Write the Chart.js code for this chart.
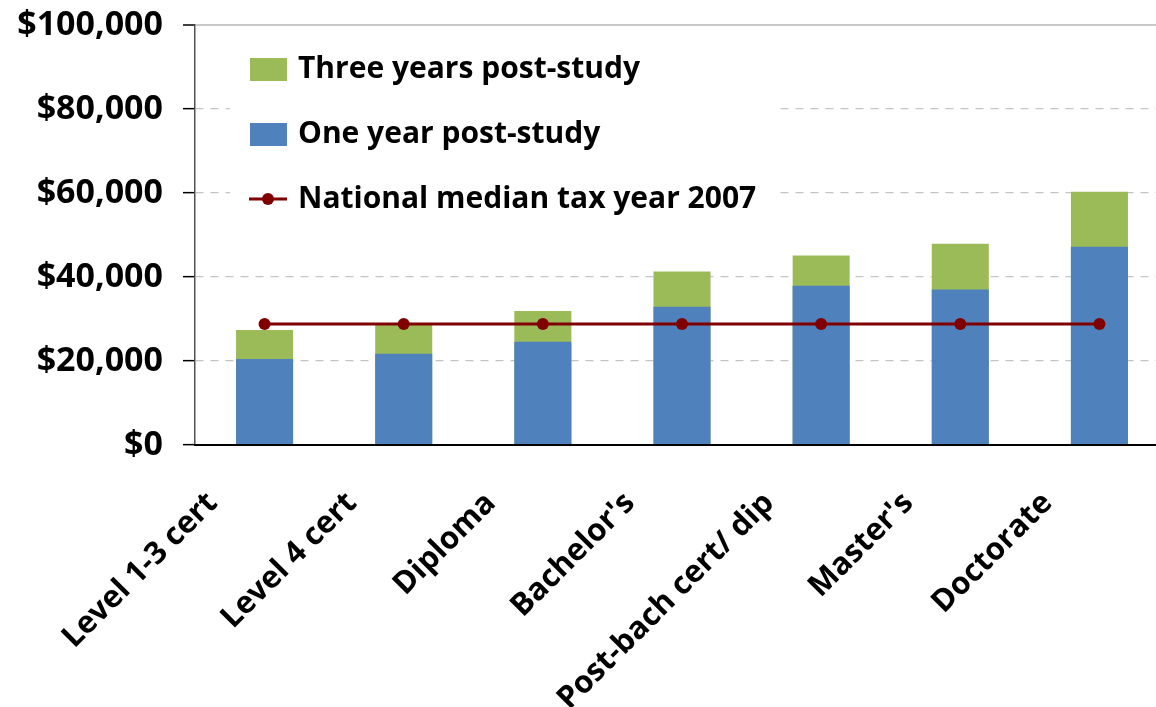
<!DOCTYPE html>
<html>
<head>
<meta charset="utf-8">
<script src="https://cdn.jsdelivr.net/npm/chart.js@4.4.1/dist/chart.umd.min.js"></script>
<style>
  html, body { margin: 0; padding: 0; background: #fff; overflow: hidden; }
  #wrap { position: relative; width: 1175px; height: 707px; }
</style>
</head>
<body>
<div id="wrap"><canvas id="earnings-chart"></canvas></div>
<script>
const categories = ['Level 1-3 cert', 'Level 4 cert', 'Diploma', "Bachelor's", 'Post-bach cert/ dip', "Master's", 'Doctorate'];
const oneYear = [20500, 21700, 24600, 32900, 37900, 37000, 47200];
const threeYears = [27400, 28700, 31900, 41300, 45100, 47900, 60300];
const nationalMedian = [28800, 28800, 28800, 28800, 28800, 28800, 28800];
const yTicks = [0, 20000, 40000, 60000, 80000, 100000];

const GREEN = '#9BBB59';
const BLUE = '#4F81BD';
const RED = '#800000';
const FAMILY = "'Open Sans', sans-serif";
const legendFont = { family: FAMILY, size: 30, weight: 'bold' };
const yFont = { family: FAMILY, size: 34, weight: 'bold' };
const xFont = { family: FAMILY, size: 31, weight: 'bold' };

// legend markers drawn into small canvases
function boxMarker(color) {
    const c = document.createElement('canvas');
    c.width = 37; c.height = 23;
    const g = c.getContext('2d');
    g.fillStyle = color;
    g.fillRect(0, 0, 37, 23);
    return c;
}
function lineMarker(color) {
    const c = document.createElement('canvas');
    c.width = 38; c.height = 14;
    const g = c.getContext('2d');
    g.strokeStyle = color;
    g.lineWidth = 3;
    g.beginPath(); g.moveTo(0, 7); g.lineTo(38, 7); g.stroke();
    g.fillStyle = color;
    g.beginPath(); g.arc(19, 7, 6, 0, Math.PI * 2); g.fill();
    return c;
}

// move legend into the plot corner and give it a white panel
const legendPanel = {
    id: 'legendPanel',
    afterLayout(chart) {
        const lg = chart.legend, area = chart.chartArea;
        lg.left = area.left + 23;
        lg.top = area.top - 6;
        lg.bottom = area.bottom;
        lg.right = area.right;
    },
    beforeDatasetsDraw(chart) {
        const lg = chart.legend, ctx = chart.ctx;
        ctx.save();
        ctx.fillStyle = '#fff';
        ctx.fillRect(lg.left + 12, lg.top + 18, 548, 190);
        ctx.restore();
        lg.draw();
    }
};

const ctx = document.getElementById('earnings-chart').getContext('2d');
const chart = new Chart(ctx, {
    data: {
        labels: categories,
        datasets: [
            {
                type: 'bar',
                label: 'Three years post-study',
                data: threeYears,
                backgroundColor: GREEN,
                order: 2
            },
            {
                type: 'bar',
                label: 'One year post-study',
                data: oneYear,
                backgroundColor: BLUE,
                order: 1
            },
            {
                type: 'line',
                label: 'National median tax year 2007',
                data: nationalMedian,
                borderColor: RED,
                backgroundColor: RED,
                borderWidth: 3,
                pointRadius: 6,
                pointHoverRadius: 6,
                pointBackgroundColor: RED,
                pointBorderWidth: 0,
                order: 0
            }
        ]
    },
    options: {
        responsive: true,
        maintainAspectRatio: false,
        animation: false,
        datasets: {
            bar: { barPercentage: 0.41, categoryPercentage: 1 }
        },
        layout: { padding: { top: 25, left: 0, right: 0, bottom: 0 } },
        scales: {
            x: {
                stacked: true,
                grid: { display: false, drawTicks: false },
                border: { display: true, color: '#000', width: 2, z: 1 },
                ticks: {
                    autoSkip: false,
                    maxRotation: 45,
                    minRotation: 45,
                    padding: 40,
                    labelOffset: -52,
                    color: '#000',
                    font: xFont
                },
                afterFit: s => { s.height = 262; }
            },
            y: {
                stacked: false,
                min: 0,
                max: 100000,
                afterBuildTicks: s => { s.ticks = yTicks.map(v => ({ value: v })); },
                ticks: {
                    padding: 20,
                    color: '#000',
                    font: yFont,
                    callback: v => '$' + v.toLocaleString('en-US')
                },
                grid: {
                    // top line is the solid plot border, zero line is the x axis
                    color: c => {
                        const v = c.tick ? c.tick.value : null;
                        if (v === 0) return 'rgba(0,0,0,0)';
                        return v === 100000 ? '#c8c8c8' : '#c4c4c4';
                    },
                    lineWidth: c => (c.tick && c.tick.value === 100000) ? 2 : 1.3,
                    tickLength: 12,
                    tickColor: '#000',
                    tickWidth: 1.5
                },
                border: {
                    color: '#505050',
                    width: 1.5,
                    dash: c => (c.tick && c.tick.value === 100000) ? [] : [8, 7]
                },
                afterFit: s => {
                    s.width = 195;
                    s.paddingTop = 0;
                    s.paddingBottom = 0;
                }
            }
        },
        plugins: {
            legend: {
                position: 'chartArea',
                align: 'start',
                labels: {
                    usePointStyle: true,
                    pointStyleWidth: 30,
                    padding: 35,
                    color: '#000',
                    font: legendFont,
                    generateLabels: function (chart) {
                        const ds = chart.data.datasets;
                        return [
                            { text: ds[0].label, pointStyle: boxMarker(GREEN), datasetIndex: 0, hidden: false, lineWidth: 0 },
                            { text: ds[1].label, pointStyle: boxMarker(BLUE), datasetIndex: 1, hidden: false, lineWidth: 0 },
                            { text: ds[2].label, pointStyle: lineMarker(RED), datasetIndex: 2, hidden: false, lineWidth: 0 }
                        ];
                    }
                }
            },
            tooltip: { enabled: false }
        }
    },
    plugins: [legendPanel]
});
</script>
</body>
</html>
